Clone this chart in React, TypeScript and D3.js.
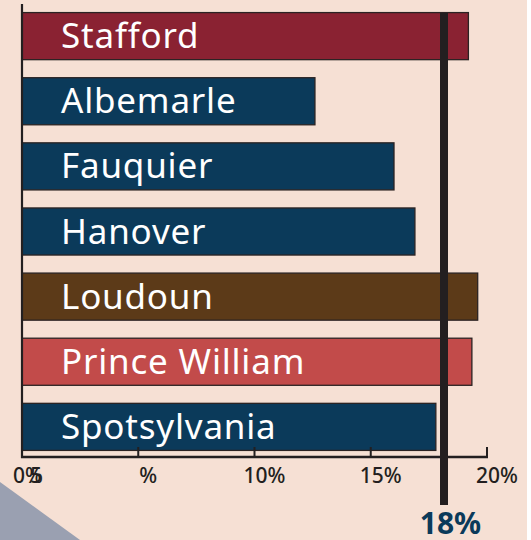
import React from 'react';
import * as d3 from 'd3';

const counties = ['Stafford', 'Albemarle', 'Fauquier', 'Hanover', 'Loudoun', 'Prince William', 'Spotsylvania'];
const shares = [19.2, 12.6, 16.0, 16.9, 19.6, 19.35, 17.8];
const barColors = ['#8a2232', '#0b3a5a', '#0b3a5a', '#0b3a5a', '#5c3a18', '#c24b4a', '#0b3a5a'];
const tickValues = [0, 5, 10, 15, 20];
const tickLabels = ['0%', '%', '10%', '15%', '20%'];
const strayLabel = '5';
const benchmark = 18;
const benchmarkLabel = '18%';

const W = 531;
const H = 540;
const axisY = 457;
const font = "'Noto Sans', Lato, sans-serif";

export default function App() {
  const x = d3.scaleLinear().domain([0, 20]).range([22, 487]);
  const y = d3.scaleBand<string>().domain(counties).range([-5, 468]).paddingInner(0.277).paddingOuter(0.27);

  return (
    <svg width={W} height={H} style={{ position: 'absolute', left: 0, top: 0 }}>
      <rect width={W} height={H} fill="#ffffff" />
      <rect width={527} height={H} fill="#f6e0d4" />
      <polygon points={`0,482 80,${H} 0,${H}`} fill="#9aa0b1" />

      {counties.map((c, i) => (
        <g key={c}>
          <rect
            x={x(0)}
            y={y(c)}
            width={x(shares[i]) - x(0)}
            height={y.bandwidth()}
            fill={barColors[i]}
            stroke="#2b2323"
            strokeWidth={1.3}
          />
          <text
            x={61}
            y={(y(c) as number) + y.bandwidth() / 2 + 12}
            fill="#ffffff"
            fontFamily={font}
            fontSize={35}
            letterSpacing={0.8}
          >
            {c}
          </text>
        </g>
      ))}

      {/* axes */}
      <line x1={22} x2={22} y1={4} y2={axisY + 1} stroke="#231f20" strokeWidth={2.2} />
      <line x1={21} x2={x(20) + 1} y1={axisY} y2={axisY} stroke="#231f20" strokeWidth={2.4} />
      {tickValues.map((t, i) => (
        <g key={t}>
          <line x1={x(t)} x2={x(t)} y1={axisY} y2={axisY - 10} stroke="#231f20" strokeWidth={2} />
          <text
            x={x(t) + (i === 0 ? 6 : 10)}
            y={483}
            textAnchor="middle"
            fill="#231f20"
            fontFamily={font}
            fontSize={21}
            fontWeight={500}
          >
            {tickLabels[i]}
          </text>
        </g>
      ))}
      <text x={36} y={483} textAnchor="middle" fill="#231f20" fontFamily={font} fontSize={21} fontWeight={500}>
        {strayLabel}
      </text>

      {/* benchmark */}
      <line x1={x(benchmark) + 3.5} x2={x(benchmark) + 3.5} y1={13} y2={505} stroke="#231f20" strokeWidth={8} />
      <text
        x={x(benchmark) + 10}
        y={534}
        textAnchor="middle"
        fill="#0b3a5a"
        fontFamily={font}
        fontSize={30}
        fontWeight={700}
      >
        {benchmarkLabel}
      </text>
    </svg>
  );
}
